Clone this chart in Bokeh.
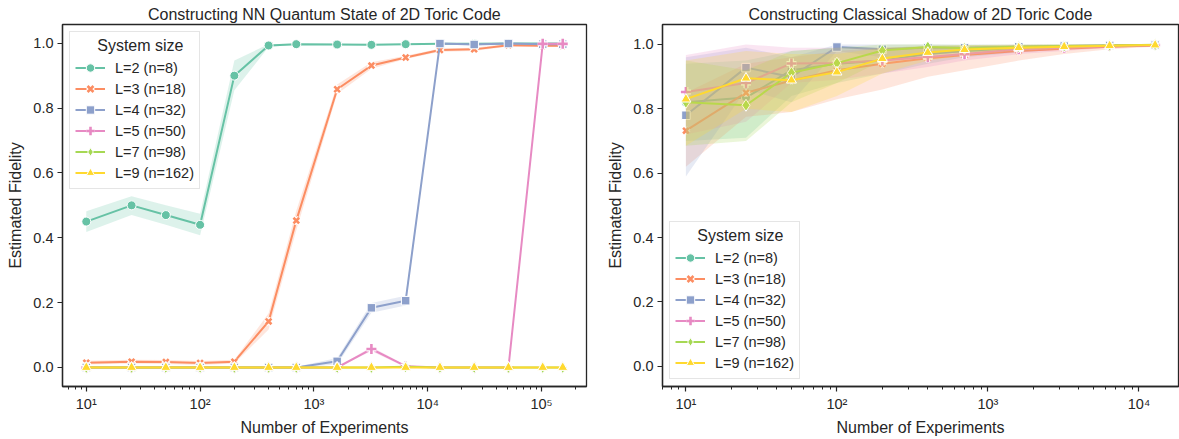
import numpy as np
from bokeh.plotting import figure
from bokeh.layouts import row
from bokeh.models import FixedTicker, Range1d, Legend, LegendItem
from bokeh.embed import file_html
from bokeh.resources import INLINE

# ---------------- data ----------------
labels = ["L=2 (n=8)", "L=3 (n=18)", "L=4 (n=32)", "L=5 (n=50)", "L=7 (n=98)", "L=9 (n=162)"]
colors = ["#66c2a5", "#fc8d62", "#8da0cb", "#e78ac3", "#a6d854", "#ffd92f"]
markers = ["circle", "x", "square", "cross", "diamond", "triangle"]

exp_nn = [10, 25, 50, 100, 200, 400, 700, 1600, 3200, 6400, 12800, 25600, 51200, 102400, 153600]
exp_cs = [10, 25, 50, 100, 200, 400, 700, 1600, 3200, 6400, 12800]

# NN quantum state: mean, lower, upper
nn_L2 = [0.45, 0.50, 0.47, 0.44, 0.90, 0.993, 0.997, 0.996, 0.995, 0.997, 0.998, 0.998, 0.999, 0.999, 0.999]
nn_L2_lo = [0.418, 0.470, 0.440, 0.408, 0.855, 0.988, 0.995, 0.994, 0.993, 0.995, 0.997, 0.997, 0.998, 0.998, 0.998]
nn_L2_hi = [0.482, 0.528, 0.500, 0.474, 0.947, 0.997, 0.999, 0.998, 0.997, 0.999, 0.999, 0.999, 1.0, 1.0, 1.0]

nn_L3 = [0.015, 0.018, 0.017, 0.014, 0.018, 0.142, 0.453, 0.858, 0.931, 0.956, 0.979, 0.981, 0.994, 0.992, 0.992]
nn_L3_lo = [0.009, 0.012, 0.011, 0.008, 0.012, 0.117, 0.423, 0.843, 0.921, 0.951, 0.974, 0.976, 0.990, 0.988, 0.988]
nn_L3_hi = [0.021, 0.024, 0.023, 0.020, 0.024, 0.167, 0.483, 0.873, 0.941, 0.961, 0.984, 0.986, 0.998, 0.996, 0.996]

nn_L4 = [0.0, 0.0, 0.0, 0.0, 0.0, 0.0, 0.0, 0.019, 0.184, 0.206, 0.999, 0.996, 0.999, 0.997, 0.997]
nn_L4_lo = [0.0, 0.0, 0.0, 0.0, 0.0, 0.0, 0.0, 0.009, 0.169, 0.191, 0.997, 0.994, 0.997, 0.995, 0.995]
nn_L4_hi = [0.0, 0.0, 0.0, 0.0, 0.0, 0.0, 0.002, 0.029, 0.199, 0.221, 1.0, 0.998, 1.0, 0.999, 0.999]

nn_L5 = [0.0, 0.0, 0.0, 0.0, 0.0, 0.0, 0.0, 0.0, 0.057, 0.004, 0.0, 0.0, 0.0, 0.998, 0.998]
nn_L5_lo = [0.0, 0.0, 0.0, 0.0, 0.0, 0.0, 0.0, 0.0, 0.050, 0.001, 0.0, 0.0, 0.0, 0.996, 0.996]
nn_L5_hi = [0.0, 0.0, 0.0, 0.0, 0.0, 0.0, 0.0, 0.0, 0.064, 0.007, 0.0, 0.0, 0.0, 1.0, 1.0]

nn_L7 = [0.0, 0.0, 0.0, 0.0, 0.0, 0.0, 0.0, 0.0, 0.0, 0.002, 0.0, 0.0, 0.0, 0.0, 0.0]
nn_L9 = [0.0, 0.0, 0.0, 0.0, 0.0, 0.0, 0.0, 0.0, 0.0, 0.0, 0.0, 0.0, 0.0, 0.0, 0.0]

# Classical shadow: mean, lower, upper
cs_L2 = [0.82, 0.835, 0.92, 0.94, 0.95, 0.97, 0.98, 0.99, 0.992, 0.996, 0.998]
cs_L2_lo = [0.70, 0.71, 0.84, 0.88, 0.91, 0.94, 0.96, 0.975, 0.985, 0.99, 0.995]
cs_L2_hi = [0.94, 0.95, 0.98, 0.99, 0.99, 0.995, 0.997, 0.998, 0.999, 0.999, 1.0]

cs_L3 = [0.732, 0.85, 0.888, 0.92, 0.94, 0.957, 0.967, 0.98, 0.987, 0.993, 0.997]
cs_L3_lo = [0.62, 0.775, 0.79, 0.83, 0.86, 0.90, 0.92, 0.95, 0.97, 0.985, 0.993]
cs_L3_hi = [0.85, 0.94, 0.96, 0.98, 0.99, 0.99, 0.995, 0.997, 0.998, 0.999, 1.0]

cs_L4 = [0.78, 0.928, 0.899, 0.992, 0.985, 0.99, 0.99, 0.993, 0.995, 0.997, 0.998]
cs_L4_lo = [0.59, 0.86, 0.82, 0.98, 0.96, 0.97, 0.975, 0.98, 0.99, 0.993, 0.996]
cs_L4_hi = [0.96, 0.99, 0.96, 1.0, 1.0, 1.0, 1.0, 1.0, 1.0, 1.0, 1.0]

cs_L5 = [0.852, 0.88, 0.941, 0.942, 0.95, 0.961, 0.97, 0.985, 0.99, 0.995, 0.998]
cs_L5_lo = [0.72, 0.76, 0.88, 0.89, 0.91, 0.93, 0.95, 0.97, 0.98, 0.99, 0.995]
cs_L5_hi = [0.967, 1.0, 0.99, 0.99, 0.99, 0.99, 0.99, 0.998, 0.999, 1.0, 1.0]

cs_L7 = [0.82, 0.811, 0.912, 0.942, 0.981, 0.992, 0.988, 0.993, 0.995, 0.997, 0.999]
cs_L7_lo = [0.685, 0.70, 0.82, 0.88, 0.95, 0.98, 0.975, 0.985, 0.99, 0.994, 0.997]
cs_L7_hi = [0.95, 0.92, 0.98, 0.99, 1.0, 1.0, 0.998, 0.999, 1.0, 1.0, 1.0]

cs_L9 = [0.83, 0.895, 0.889, 0.914, 0.956, 0.975, 0.984, 0.99, 0.993, 0.996, 0.998]
cs_L9_lo = [0.685, 0.80, 0.79, 0.84, 0.91, 0.95, 0.965, 0.98, 0.985, 0.992, 0.996]
cs_L9_hi = [0.95, 0.98, 0.97, 0.97, 0.99, 0.995, 0.998, 0.999, 1.0, 1.0, 1.0]

y_ticks = [0.0, 0.2, 0.4, 0.6, 0.8, 1.0]
x_ticks_nn = [10, 100, 1000, 10000, 100000]
x_ticks_cs = [10, 100, 1000, 10000]
x_tick_labels = {10: "10\u00b9", 100: "10\u00b2", 1000: "10\u00b3", 10000: "10\u2074", 100000: "10\u2075"}

nn_series = [
    (nn_L2, nn_L2_lo, nn_L2_hi),
    (nn_L3, nn_L3_lo, nn_L3_hi),
    (nn_L4, nn_L4_lo, nn_L4_hi),
    (nn_L5, nn_L5_lo, nn_L5_hi),
    (nn_L7, nn_L7, nn_L7),
    (nn_L9, nn_L9, nn_L9),
]
cs_series = [
    (cs_L2, cs_L2_lo, cs_L2_hi),
    (cs_L3, cs_L3_lo, cs_L3_hi),
    (cs_L4, cs_L4_lo, cs_L4_hi),
    (cs_L5, cs_L5_lo, cs_L5_hi),
    (cs_L7, cs_L7_lo, cs_L7_hi),
    (cs_L9, cs_L9_lo, cs_L9_hi),
]

FONT = "Liberation Sans"
TXT = "#262626"
msize = {"circle": 9, "x": 8, "square": 8.5, "cross": 10, "diamond": 12, "triangle": 10}


def minor_ticks(lo_exp, hi_exp):
    out = []
    for e in range(lo_exp, hi_exp + 1):
        for m in range(2, 10):
            out.append(m * 10 ** e)
    return out


def make_fig(title, xs, series, xr, yr, xt, xminor, width, bl, br, legend_loc, legend_margin):
    p = figure(width=width, height=439, x_axis_type="log",
               x_range=Range1d(*xr), y_range=Range1d(*yr),
               output_backend="svg", toolbar_location=None,
               min_border_left=bl, min_border_right=br,
               min_border_top=24, min_border_bottom=53)
    p.title.text = title
    p.title.align = "center"
    p.title.text_font = FONT
    p.title.text_font_size = "16px"
    p.title.text_font_style = "normal"
    p.title.text_color = TXT
    p.title.standoff = 3
    p.title.offset = 0
    p.xgrid.visible = False
    p.ygrid.visible = False
    p.outline_line_color = TXT
    p.outline_line_width = 1.3
    p.background_fill_color = "white"
    p.border_fill_color = "white"

    p.xaxis.ticker = FixedTicker(ticks=xt, minor_ticks=xminor)
    p.xaxis.major_label_overrides = {k: v for k, v in x_tick_labels.items() if k in xt}
    p.yaxis.ticker = FixedTicker(ticks=y_ticks)
    p.yaxis.major_label_overrides = {t: "%.1f" % t for t in y_ticks}
    for ax in (p.xaxis[0], p.yaxis[0]):
        ax.axis_line_color = TXT
        ax.axis_line_width = 1.3
        ax.major_tick_line_color = TXT
        ax.major_tick_line_width = 1.2
        ax.minor_tick_line_color = TXT
        ax.major_tick_in = 0
        ax.major_tick_out = 5
        ax.minor_tick_in = 0
        ax.minor_tick_out = 3
        ax.major_label_text_font = FONT
        ax.major_label_text_font_size = "14.5px"
        ax.major_label_text_color = TXT
        ax.axis_label_text_font = FONT
        ax.axis_label_text_font_size = "16px"
        ax.axis_label_text_font_style = "normal"
        ax.axis_label_text_color = TXT
        ax.major_label_standoff = 4
        ax.axis_label_standoff = 4
    p.yaxis.axis_label_standoff = 6
    p.yaxis.minor_tick_line_color = None
    p.xaxis.axis_label = "Number of Experiments"
    p.yaxis.axis_label = "Estimated Fidelity"

    items = []
    for i, (mean, lo, hi) in enumerate(series):
        c = colors[i]
        mk = markers[i]
        p.varea(x=xs, y1=lo, y2=hi, fill_color=c, fill_alpha=0.22)
        rl = p.line(xs, mean, line_color=c, line_width=2)
        rends = [rl]
        if mk in ("x", "cross"):
            rw = p.scatter(xs, mean, marker=mk, size=msize[mk], line_color="white", line_width=5)
            rm = p.scatter(xs, mean, marker=mk, size=msize[mk], line_color=c, line_width=2.6)
            rends += [rw, rm]
        else:
            rm = p.scatter(xs, mean, marker=mk, size=msize[mk], fill_color=c,
                           line_color="white", line_width=1)
            rends.append(rm)
        items.append(LegendItem(label=labels[i], renderers=rends))

    leg = Legend(items=items, location=legend_loc)
    leg.title = "\u00a0\u00a0\u00a0\u00a0\u00a0System size"
    leg.title_text_font = FONT
    leg.title_text_font_size = "16px"
    leg.title_text_font_style = "normal"
    leg.title_text_color = TXT
    leg.title_standoff = 2
    leg.label_text_font = FONT
    leg.label_text_font_size = "14.5px"
    leg.label_text_color = TXT
    leg.label_height = 21
    leg.glyph_height = 21
    leg.glyph_width = 30
    leg.label_standoff = 10
    leg.spacing = 0
    leg.padding = 5
    leg.margin = legend_margin
    leg.border_line_color = "#cccccc"
    leg.border_line_width = 1
    leg.background_fill_alpha = 0.85
    p.add_layout(leg, "center")
    return p


p1 = make_fig("Constructing NN Quantum State of 2D Toric Code", exp_nn, nn_series,
              (10 ** 0.791, 10 ** 5.395), (-0.0586, 1.0577), x_ticks_nn, minor_ticks(0, 5),
              604, 62, 18, "top_left", 7)
p2 = make_fig("Constructing Classical Shadow of 2D Toric Code", exp_cs, cs_series,
              (10 ** 0.845, 10 ** 4.262), (-0.063, 1.062), x_ticks_cs, minor_ticks(0, 4),
              575, 55, 1, "bottom_left", 7)

layout = row(p1, p2)
open("out.html", "w").write(file_html(layout, INLINE))
